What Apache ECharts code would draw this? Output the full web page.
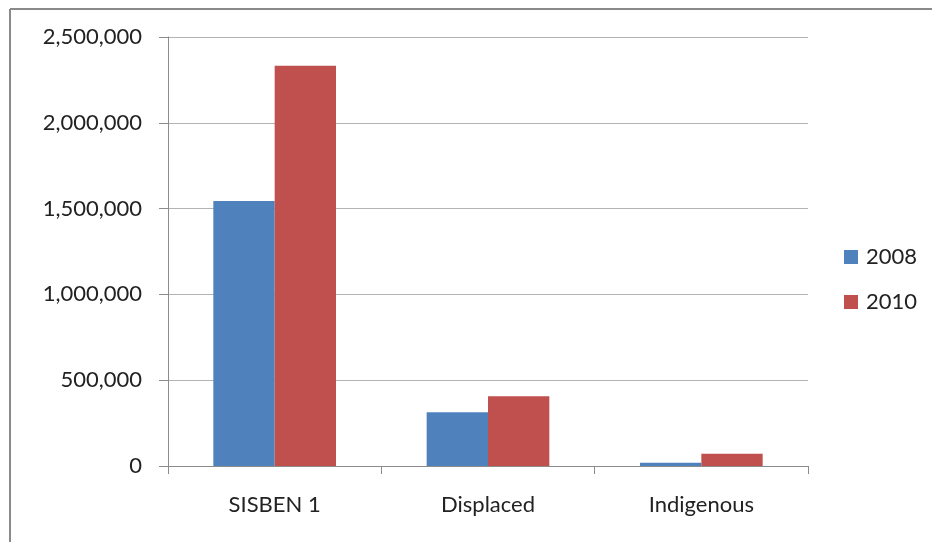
<!DOCTYPE html>
<html>
<head>
<meta charset="utf-8">
<script src="https://cdn.jsdelivr.net/npm/echarts@6/dist/echarts.min.js"></script>
<style>
  html, body { margin: 0; padding: 0; background: #fff; }
  #chart { width: 932px; height: 542px; }
</style>
</head>
<body>
<div id="chart"></div>
<script>
// Beneficiary groups and counts per year
const categories = ['SISBEN 1', 'Displaced', 'Indigenous'];
const years = ['2008', '2010'];
const values2008 = [1544000, 313000, 19000];
const values2010 = [2333000, 406000, 72000];
const yTicks = [0, 500000, 1000000, 1500000, 2000000, 2500000];

const FONT = 'Lato, "Open Sans", sans-serif';
const TEXT = '#222';

const chart = echarts.init(document.getElementById('chart'), null, { renderer: 'canvas' });

chart.setOption({
  animation: false,
  backgroundColor: '#fff',
  textStyle: { fontFamily: FONT },
  grid: { left: 168, right: 124, top: 37, bottom: 76, containLabel: false },
  legend: {
    orient: 'vertical',
    left: 844,
    top: 246,
    padding: 0,
    itemWidth: 14,
    itemHeight: 14,
    itemGap: 23,
    icon: 'rect',
    data: years,
    textStyle: { fontFamily: FONT, fontSize: 22, color: TEXT, padding: [0, 0, 0, 3] }
  },
  xAxis: {
    type: 'category',
    data: categories,
    axisLine: { lineStyle: { color: '#8c8c8c', width: 1 } },
    axisTick: { show: true, length: 8, lineStyle: { color: '#8c8c8c' } },
    axisLabel: { margin: 28, fontFamily: FONT, fontSize: 22, color: TEXT }
  },
  yAxis: {
    type: 'value',
    min: yTicks[0],
    max: yTicks[yTicks.length - 1],
    interval: yTicks[1] - yTicks[0],
    axisLine: { show: true, lineStyle: { color: '#8c8c8c', width: 1 } },
    axisTick: { show: true, length: 9, inside: false, lineStyle: { color: '#8c8c8c' } },
    splitLine: { lineStyle: { color: '#b3b3b3', width: 1 } },
    axisLabel: {
      margin: 26,
      fontFamily: FONT,
      fontSize: 22,
      color: TEXT,
      formatter: v => v.toLocaleString('en-US')
    }
  },
  series: [
    {
      name: years[0],
      type: 'bar',
      data: values2008,
      barGap: '0%',
      barCategoryGap: '42.5%',
      itemStyle: { color: '#4F81BD' }
    },
    {
      name: years[1],
      type: 'bar',
      data: values2010,
      barGap: '0%',
      barCategoryGap: '42.5%',
      itemStyle: { color: '#C0504D' }
    }
  ],
  graphic: [
    { type: 'line', shape: { x1: 10, y1: 9, x2: 932, y2: 9 }, style: { stroke: '#8a8a8a', lineWidth: 2 } },
    { type: 'line', shape: { x1: 10, y1: 9, x2: 10, y2: 542 }, style: { stroke: '#8a8a8a', lineWidth: 2 } }
  ]
});
</script>
</body>
</html>
